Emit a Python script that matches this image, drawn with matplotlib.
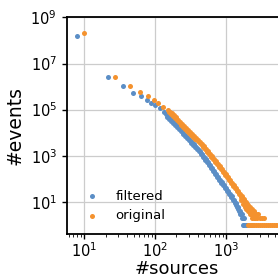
import numpy as np
import matplotlib
matplotlib.use("Agg")
import matplotlib.pyplot as plt
from matplotlib.ticker import NullLocator

# filtered events: (#sources, #events)
filt_sources = [7.8, 21.4, 35.3, 48.4, 62.4, 75.8, 87.8, 100, 115.8, 131.9,
                143.1, 152.7, 163.0, 174.0, 185.7, 198.2, 211.5, 225.8, 241.0, 257.2,
                274.5, 293.0, 312.6, 333.7, 356.1, 380.1, 405.7, 433.0, 462.1, 493.2,
                526.5, 561.8, 599.6, 640.0, 683.1, 729.1, 778.2, 830.6, 886.5, 946.2,
                1010, 1078, 1150, 1228, 1311, 1399, 1493, 1594, 1701, 1758,
                147.8, 157.8, 168.4, 179.8, 191.9, 204.7, 218.5, 233.3, 249, 265.7,
                283.6, 302.6, 323, 344.7, 367.9, 392.7, 419.1, 447.3, 477.4, 509.6,
                543.9, 580.4, 619.5, 661.2, 705.7, 753.3, 804, 858.1, 915.9, 977.6,
                1043, 1113, 1188, 1269, 1354, 1445, 1543, 1647,
                1594, 1701, 1815, 1493, 1399,
                1758, 1815, 1937, 2068, 2207, 2355]
filt_events = [1.60e8, 2.53e6, 1.06e6, 5.45e5, 3.92e5, 2.68e5, 1.99e5, 1.60e5, 1.13e5, 7.94e4,
               6.19e4, 5.08e4, 4.24e4, 3.48e4, 2.85e4, 2.33e4, 1.91e4, 1.57e4, 1.20e4, 9.14e3,
               7.27e3, 5.95e3, 4.88e3, 3.92e3, 3.15e3, 2.50e3, 1.99e3, 1.63e3, 1.21e3, 896,
               699, 528, 392, 285, 211, 160, 120, 90, 69, 53,
               38, 29, 22, 17, 12, 9, 6, 4, 3, 2,
               4.77e4, 3.94e4, 3.26e4, 2.68e4, 2.19e4, 1.79e4, 1.47e4, 1.16e4, 8.9e3, 6.9e3,
               5.6e3, 4.58e3, 3.71e3, 2.98e3, 2.39e3, 1.90e3, 1.53e3, 1.19e3, 884, 673,
               517, 387, 284, 208, 156, 118, 88, 67, 51, 38,
               28, 21, 16, 12, 9, 6, 4, 3,
               3, 2, 2, 5, 7,
               1, 1, 1, 1, 1, 1]

# original events
orig_sources = [10, 27.4, 44.7, 61.9, 78.8, 95.2, 111.4, 131.1,
                152.7, 163.0, 174.0, 185.7, 198.2, 211.5, 225.8, 241.0, 257.2, 274.5,
                293.0, 312.6, 333.7, 356.1, 380.1, 405.7, 433.0, 462.1, 493.2, 526.5,
                561.8, 599.6, 640.0, 683.1, 729.1, 778.2, 830.6, 886.5, 946.2, 1010,
                1078, 1150, 1228, 1311, 1399, 1493, 1594, 1701, 1815, 1937,
                2068, 2207, 2355, 2514, 2683, 2863, 3056, 3262, 3481,
                157.8, 168.4, 179.8, 191.9, 204.7, 218.5, 233.3, 249, 265.7, 283.6,
                302.6, 323, 344.7, 367.9, 392.7, 419.1, 447.3, 477.4, 509.6, 543.9,
                580.4, 619.5, 661.2, 705.7, 753.3, 804, 858.1, 915.9, 977.6, 1043,
                1113, 1188, 1269, 1354, 1445, 1543, 1647, 1757, 1875, 2001,
                2136, 2280,
                1647, 1757, 1875, 2001, 2136, 2280, 2433, 2597, 2772,
                1815, 1937, 2068, 2207, 2355, 2514,
                2068, 2207, 2355, 2514, 2683, 2863, 3056, 3262, 3481, 3715,
                3966, 4232, 4517, 4822, 5146, 5493, 5860, 6260, 6680]
orig_events = [2.15e8, 2.68e6, 1.09e6, 5.83e5, 4.04e5, 2.50e5, 1.89e5, 1.35e5,
               9.51e4, 8.19e4, 6.85e4, 5.61e4, 4.55e4, 3.65e4, 2.93e4, 2.33e4, 1.855e4, 1.52e4,
               1.258e4, 1.04e4, 8.61e3, 7.13e3, 5.90e3, 4.88e3, 4.00e3, 3.28e3, 2.55e3, 1.99e3,
               1.55e3, 1.21e3, 942, 734, 572, 446, 341, 263, 201, 154,
               118, 90, 68, 52, 39, 29, 22, 17, 13, 10,
               7, 6, 5, 4, 3, 3, 2, 2, 2,
               7.5e4, 6.37e4, 5.27e4, 4.29e4, 3.46e4, 2.78e4, 2.22e4, 1.77e4, 1.43e4, 1.18e4,
               9.72e3, 8.04e3, 6.66e3, 5.51e3, 4.56e3, 3.76e3, 3.08e3, 2.46e3, 1.91e3, 1.49e3,
               1.16e3, 908, 707, 551, 429, 331, 254, 196, 150, 115,
               88, 66, 50, 38, 29, 21, 16, 13, 10, 8,
               5, 4,
               12, 8, 6, 5, 4, 3, 3, 2, 2,
               8, 5, 4, 3, 2, 2,
               1, 1, 1, 1, 1, 1, 1, 1, 1, 1,
               1, 1, 1, 1, 1, 1, 1, 1, 1]

BLUE = '#5b8ec6'
ORANGE = '#f4922e'

fig = plt.figure(figsize=(2.78, 2.77), dpi=100)
ax = fig.add_axes([0.240, 0.154, 0.791, 0.783])

ax.scatter(filt_sources, filt_events, s=13, color=BLUE, linewidths=0, label='filtered', zorder=3)
ax.scatter(orig_sources, orig_events, s=13, color=ORANGE, linewidths=0, label='original', zorder=3)

ax.set_xscale('log')
ax.set_yscale('log')
ax.set_xlim(5.64, 7244)
ax.set_ylim(0.385, 1e9)
ax.set_xticks([1e1, 1e2, 1e3])
ax.set_yticks([1e1, 1e3, 1e5, 1e7, 1e9])
ax.yaxis.set_minor_locator(NullLocator())

ax.grid(True, which='major', color='#cccccc', linewidth=0.9)
ax.set_axisbelow(True)
for sp in ax.spines.values():
    sp.set_linewidth(1.3)
    sp.set_color('black')
ax.tick_params(which='major', labelsize=10.5, length=3.5, width=1.0)
ax.tick_params(axis='x', which='major', pad=1.5)
ax.tick_params(which='minor', length=2, width=0.6)

ax.set_xlabel('#sources', fontsize=13, labelpad=0)
ax.set_ylabel('#events', fontsize=13.5, labelpad=4)
ax.legend(loc='lower left', frameon=False, fontsize=9.5, scatterpoints=1)

fig.savefig('out.png', dpi=100)
